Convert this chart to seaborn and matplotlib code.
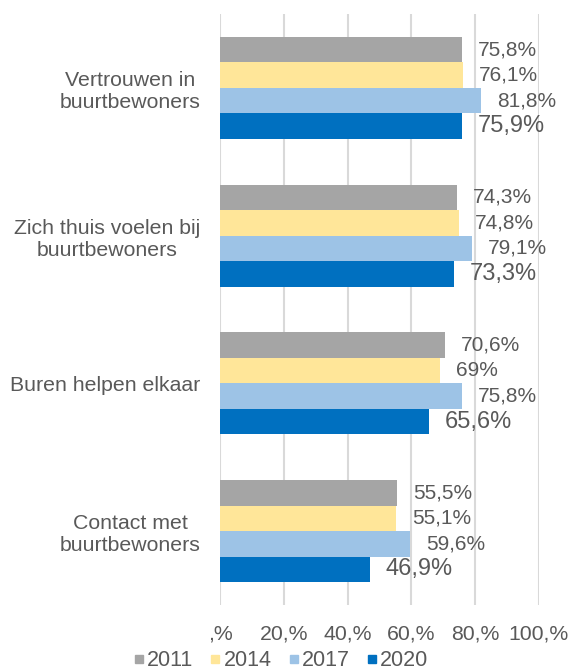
import matplotlib
matplotlib.use("Agg")
import matplotlib.pyplot as plt
from matplotlib.lines import Line2D
import seaborn as sns
import pandas as pd

categories = [
    "Vertrouwen in\nbuurtbewoners",
    "Zich thuis voelen bij\nbuurtbewoners",
    "Buren helpen elkaar",
    "Contact met\nbuurtbewoners",
]
years = ["2011", "2014", "2017", "2020"]
values_2011 = [75.8, 74.3, 70.6, 55.5]
values_2014 = [76.1, 74.8, 69.0, 55.1]
values_2017 = [81.8, 79.1, 75.8, 59.6]
values_2020 = [75.9, 73.3, 65.6, 46.9]
tick_values = [0, 20, 40, 60, 80, 100]
tick_labels = [",%", "20,%", "40,%", "60,%", "80,%", "100,%"]
colors = ["#a5a5a5", "#ffe699", "#9dc3e6", "#0070c0"]

series = [values_2011, values_2014, values_2017, values_2020]
df = pd.DataFrame(
    [(c, y, v) for y, vals in zip(years, series) for c, v in zip(categories, vals)],
    columns=["categorie", "jaar", "waarde"],
)

sns.set_style("white")
plt.rcParams["font.family"] = ["Liberation Sans", "DejaVu Sans"]
text_color = "#595959"

fig = plt.figure(figsize=(5.69, 6.72), dpi=100)
ax = fig.add_axes([0.3866, 0.0997, 0.5606, 0.8795])

sns.barplot(
    data=df, x="waarde", y="categorie", hue="jaar",
    order=categories, hue_order=years, palette=colors, saturation=1,
    width=0.69, orient="h", ax=ax, legend=False,
    edgecolor="none", linewidth=0,
)

ax.set_xlim(0, 100)
ax.set_ylim(3.5, -0.5)
ax.set_xticks(tick_values)
ax.set_xticklabels(tick_labels, fontsize=15.3, color=text_color)
ax.tick_params(axis="x", length=0, pad=14)
ax.tick_params(axis="y", length=0, pad=14)
for lbl in ax.get_yticklabels():
    lbl.set_fontsize(15.3)
    lbl.set_color(text_color)
    lbl.set_multialignment("center")
ax.set_xlabel("")
ax.set_ylabel("")
ax.grid(axis="x", color="#d9d9d9", linewidth=1.5)
ax.set_axisbelow(True)
for side in ax.spines.values():
    side.set_visible(False)


def fmt(v):
    if float(v).is_integer():
        return f"{int(v)}%"
    return f"{v:.1f}%".replace(".", ",")


for i, (cont, vals) in enumerate(zip(ax.containers, series)):
    size = 17 if i == 3 else 15
    ax.bar_label(cont, labels=[fmt(v) for v in vals], padding=11.5,
                 fontsize=size, color=text_color)

handles = [Line2D([0], [0], marker="s", linestyle="none", markersize=6,
                  markerfacecolor=c, markeredgecolor=c) for c in colors]
fig.legend(handles, years, loc="center", bbox_to_anchor=(0.494, 0.017),
           ncol=4, frameon=False, fontsize=15.5, handlelength=0.45,
           handletextpad=0.15, columnspacing=0.8, labelcolor=text_color,
           borderaxespad=0, borderpad=0)

fig.savefig("out.png", dpi=100)
